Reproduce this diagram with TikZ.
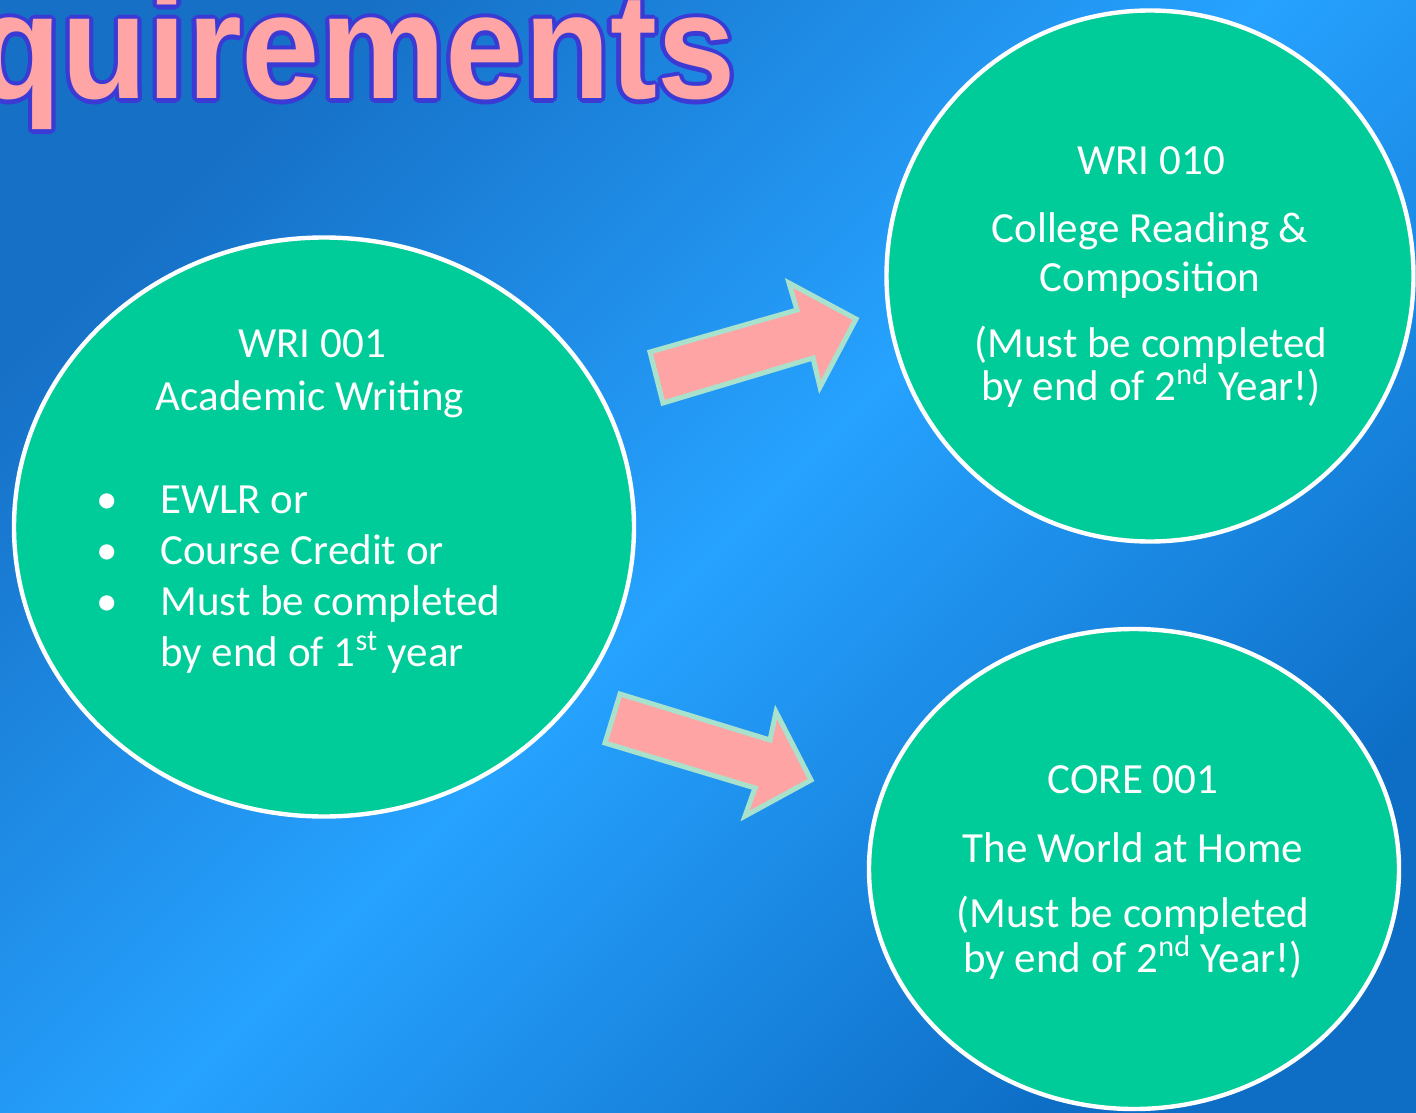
\documentclass[tikz,border=0pt]{standalone}
\usepackage{fontspec}
\setmainfont{Carlito}
\newfontfamily\titlefont{Liberation Sans}
\usetikzlibrary{shapes.geometric}
\definecolor{bgdark}{HTML}{1670C6}
\definecolor{bgdarkb}{HTML}{0E6EC6}
\definecolor{bglight}{HTML}{26A2FF}
\definecolor{circfill}{HTML}{00CC99}
\definecolor{arrfill}{HTML}{FFA4A4}
\definecolor{arredge}{HTML}{A8E2CC}
\definecolor{titlepink}{HTML}{FFA5A5}
\definecolor{titleblue}{HTML}{3B3AD4}
\tikzset{
  course/.style={ellipse, draw=white, line width=2.2pt, fill=circfill, inner sep=0pt},
  txt/.style={text=white, inner sep=0pt, font=\fontsize{21.5}{25}\selectfont},
  blockarrow/.style={fill=arrfill, draw=arredge, line width=2.5pt, line join=miter},
  titletxt/.style={inner sep=0pt, anchor=base east, font=\titlefont\bfseries\fontsize{75}{80}\selectfont}
}
\newcommand{\titletext}{\scalebox{0.94}[1]{Requirements}}
\begin{document}
\begin{tikzpicture}[x=0.5pt,y=-0.5pt]
\useasboundingbox (0,0) rectangle (1416,1112);
\clip (0,0) rectangle (1416,1112);
\shade[top color=bgdark, bottom color=bgdarkb, middle color=bglight, shading angle=45] (0,0) rectangle (1416,1112);

% title with outline
\coordinate (tpos) at (736,99);
\foreach \a [count=\i] in {0,22.5,...,337.5}
  \node[titletxt, text=titleblue, xshift={2.1pt*cos(\a)}, yshift={2.1pt*sin(\a)}] (tout\i) at (tpos) {\titletext};
\node[titletxt, text=titlepink] (title) at (tpos) {\titletext};

% circles
\node[course, minimum width=310pt, minimum height=289.5pt] (wri001) at (324,527) {};
\node[course, minimum width=263.5pt, minimum height=265.5pt] (wri010) at (1150,276) {};
\node[course, minimum width=265pt, minimum height=240pt] (core001) at (1134,869) {};

% block arrows
\draw[blockarrow] (663,403) -- (650,352) -- (797,310) -- (789,283) -- (856,319) -- (820,387) -- (813,358) -- cycle;
\draw[blockarrow] (620,694) -- (605,743) -- (755,788) -- (745,816) -- (811,780) -- (776,712) -- (770,740) -- cycle;

% left circle text
\node[txt, anchor=base] (l1) at (312,357) {WRI 001};
\node[txt, anchor=base] (l2) at (310,410) {Academic Writing};
\node[txt, anchor=base] (b1) at (107,513) {•};
\node[txt, anchor=base] (b2) at (107,564) {•};
\node[txt, anchor=base] (b3) at (107,615) {•};
\node[txt, anchor=base west] (l3) at (160,513) {EWLR or};
\node[txt, anchor=base west] (l4) at (160,564) {Course Credit or};
\node[txt, anchor=base west] (l5) at (160,615) {Must be completed};
\node[txt, anchor=base west] (l6) at (160,666) {by end of 1\textsuperscript{st} year};

% top right text
\node[txt, anchor=base] (r1) at (1151,175) {WRI 010};
\node[txt, anchor=base] (r2) at (1150,243) {College Reading \&};
\node[txt, anchor=base] (r3) at (1150,292) {Composition};
\node[txt, anchor=base] (r4) at (1151,357) {(Must be completed};
\node[txt, anchor=base] (r5) at (1151,400) {by end of 2\textsuperscript{nd} Year!)};

% bottom right text
\node[txt, anchor=base] (c1) at (1133,793) {CORE 001};
\node[txt, anchor=base] (c2) at (1133,862) {The World at Home};
\node[txt, anchor=base] (c3) at (1133,927) {(Must be completed};
\node[txt, anchor=base] (c4) at (1133,972) {by end of 2\textsuperscript{nd} Year!)};
\end{tikzpicture}
\end{document}
